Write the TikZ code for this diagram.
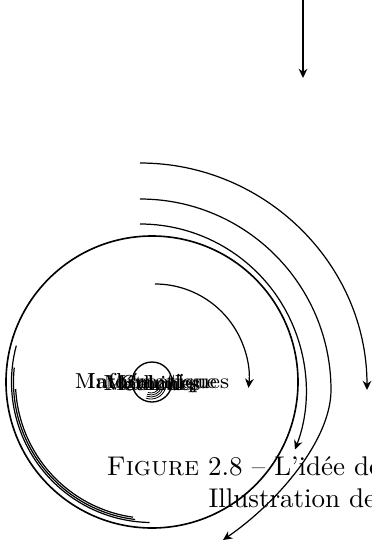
\documentclass[tikz,border=0pt]{standalone}
\usetikzlibrary{arrows.meta,calc}
\begin{document}
\begin{tikzpicture}[x=0.37pt,y=-0.37pt,
  conn/.style={line width=0.45pt},
  tipped/.style={-{Stealth[length=3.4pt,width=3.2pt]}},
  word/.style={font=\footnotesize, inner sep=0pt, anchor=center},
  captext/.style={font=\normalsize, inner sep=0pt, anchor=base west}]
\useasboundingbox (0,0) rectangle (371,542);
% coordinates
\coordinate (C) at (152,382);
\coordinate (vtop) at (303,0);
\coordinate (vbot) at (303,78);
\coordinate (a1s) at (140,163);
\coordinate (a2s) at (140,199);
\coordinate (a2e) at (223,540);
\coordinate (a3s) at (140,224);
\coordinate (a4s) at (155,284);
% vertical arrow
\draw[conn,tipped] (vtop) -- (vbot);
% outer arcs
\draw[conn,tipped] (a1s) arc[start angle=-90, end angle=0, radius=227];
\draw[conn,tipped] (a2s) arc[start angle=-90, end angle=0, radius=191]
   .. controls (331,440) and (278,502) .. (a2e);
\draw[conn,tipped] (a3s) arc[start angle=-90, end angle=21, radius=166];
\draw[conn,tipped] (a4s) arc[start angle=-90, end angle=6, radius=94];
% big circle
\draw[line width=0.6pt] (C) circle[radius=146];
% inner lower-left arcs
\draw[conn] ($(C)+(195:140.5)$) arc[start angle=195, end angle=91, radius=140.5];
\draw[conn] ($(C)+(186:138.5)$) arc[start angle=186, end angle=97, radius=138.5];
\draw[conn] ($(C)+(177:136.5)$) arc[start angle=177, end angle=98, radius=136.5];
% hub circle
\node (hub) [circle, draw, line width=0.5pt, minimum size=14.8pt, inner sep=0pt] at (152,382) {};
% small arcs inside hub
\foreach \r in {9,11,13,15}{
  \draw[line width=0.3pt] ($(151,384)+(20:\r)$) arc[start angle=20, end angle=110, radius=\r];
}
% overlapping words
\node (w1) [word] at (152,383) {Mathématiques};
\node (w2) [word] at (152,383) {Informatique};
\node (w3) [word] at (152,383) {Machines};
\node (w4) [word] at (152,383) {Méthodes};
\node (w5) [word] at (152,383) {Calcul};
% caption
\node (cap1) [captext] at (106,475) {\textsc{Figure} 2.8 -- L’idée de};
\node (cap2) [captext] at (208,507) {Illustration de};
\end{tikzpicture}
\end{document}
